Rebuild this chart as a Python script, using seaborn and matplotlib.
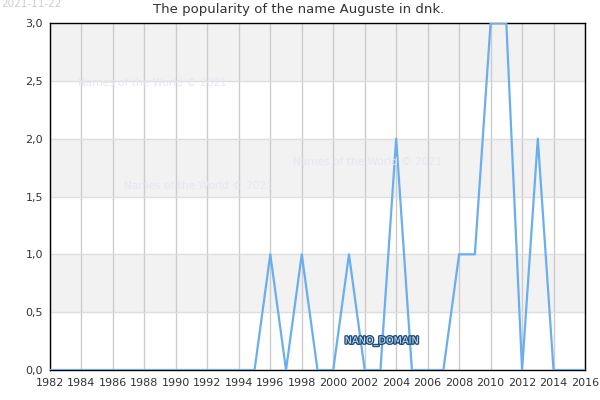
import matplotlib
matplotlib.use("Agg")
import matplotlib.pyplot as plt
import matplotlib.patheffects as pe
import seaborn as sns
import pandas as pd

# data
years = list(range(1982, 2017))
counts = [0] * 14 + [1, 0, 1, 0, 0, 1, 0, 0, 2, 0, 0, 0, 1, 1, 3, 3, 0, 2, 0, 0, 0]
xticks = list(range(1982, 2017, 2))
yticks = [0.0, 0.5, 1.0, 1.5, 2.0, 2.5, 3.0]
ylabels = ["0,0", "0,5", "1,0", "1,5", "2,0", "2,5", "3,0"]

df = pd.DataFrame({"year": years, "count": counts})

sns.set_style("white")
plt.rcParams['font.family'] = ['DejaVu Sans']

fig = plt.figure(figsize=(6, 4), dpi=100)
ax = fig.add_axes([50 / 600, 30 / 400, 535 / 600, 347 / 400])

# alternating bands
for i in range(len(yticks) - 1):
    if i % 2 == 1:
        ax.axhspan(yticks[i], yticks[i + 1], color="#f2f2f2", zorder=0, lw=0)

sns.lineplot(data=df, x="year", y="count", color="#6aaef0", lw=1.6, ax=ax, zorder=3)

ax.set_xlim(1982, 2016)
ax.set_ylim(0, 3)
ax.set_xticks(xticks)
ax.set_yticks(yticks)
ax.set_yticklabels(ylabels)
ax.grid(True, axis="x", color="#cccccc", lw=1, zorder=1)
ax.grid(True, axis="y", color="#dedede", lw=1, zorder=1)
ax.set_axisbelow(True)
ax.tick_params(labelsize=8, colors="#333333", length=0)
ax.tick_params(axis="x", pad=6)
ax.tick_params(axis="y", pad=5)
ax.set_xlabel("")
ax.set_ylabel("")
for s in ax.spines.values():
    s.set_color("black")
    s.set_linewidth(1)

fig.text(0.497, 0.975, "The popularity of the name Auguste in dnk.", ha="center", va="center",
         fontsize=9.5, color="#333333")
fig.text(0.002, 0.99, "2021-11-22", ha="left", va="center", fontsize=7.5, color="#cccccc")

wm = "Names of the World © 2021"
for x, y in [(78, 83), (293, 162), (124, 186)]:
    fig.text(x / 600, 1 - y / 400, wm, ha="left", va="center", fontsize=7.6, color="#e6e6f5")

t = fig.text(382 / 600, 1 - 341 / 400, "NANO_DOMAIN", ha="center", va="center", fontsize=7,
             color="#cfe3f7")
t.set_path_effects([pe.withStroke(linewidth=2, foreground="#1f4f7a")])

fig.savefig("out.png", dpi=100)
